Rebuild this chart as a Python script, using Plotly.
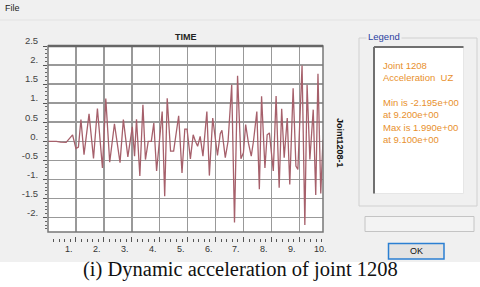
import plotly.graph_objects as go

# ---- data (turning points) ----
time_s = [0.00, 0.30, 0.45, 0.65, 0.88, 1.00, 1.09, 1.18, 1.29, 1.47, 1.63, 1.77, 1.95, 2.07, 2.21,
          2.38, 2.58, 2.70, 2.86, 3.02, 3.10, 3.17, 3.29, 3.40, 3.49, 3.59, 3.70, 3.79, 3.89, 4.09,
          4.18, 4.27, 4.39, 4.50, 4.68, 4.80, 4.90, 4.98, 5.10, 5.20, 5.28, 5.36, 5.45, 5.55, 5.69,
          5.78, 5.90, 6.07, 6.17, 6.23, 6.35, 6.45, 6.58, 6.68, 6.79, 6.91, 7.00, 7.08, 7.18, 7.28,
          7.36, 7.48, 7.57, 7.65, 7.77, 7.85, 7.93, 8.07, 8.17, 8.28, 8.37, 8.46, 8.57, 8.66, 8.78,
          8.88, 8.95, 9.10, 9.20, 9.28, 9.38, 9.50, 9.59, 9.67, 9.77, 9.85]
accel_uz = [0.00, 0.00, -0.02, -0.03, 0.17, -0.19, -0.15, 0.57, -0.35, 0.72, -0.45, 0.86, -0.70, 1.12, -0.55,
            0.46, -0.56, 0.57, -0.41, 0.38, -0.39, 0.58, -0.91, 0.96, -0.48, 0.00, 0.00, 0.48, -0.78, 0.78,
            -1.44, 1.13, -0.26, -0.26, 0.67, -0.83, 0.32, 0.32, -0.46, 0.17, 0.00, -0.13, 0.13, -0.39, 0.78,
            -0.90, 0.61, -0.37, 0.20, 0.29, -0.43, 0.00, 1.48, -2.13, 1.72, -0.46, -0.30, 0.44, -0.05, -0.39,
            0.00, 0.78, -1.26, 1.18, -0.70, 0.17, 0.22, -0.78, 1.19, -1.22, 0.85, -0.43, 0.61, -1.13, 1.39,
            -0.65, -0.74, 1.99, -2.195, 1.48, -0.48, 0.83, -1.41, 1.77, -1.37, 0.04]

y_tickvals = [2.5, 2.0, 1.5, 1.0, 0.5, 0.0, -0.5, -1.0, -1.5, -2.0]
y_ticktext = ["2.5", "2.", "1.5", "1.", "0.5", "0.", "-0.5", "-1.", "-1.5", "-2."]
x_tickvals = [1, 2, 3, 4, 5, 6, 7, 8, 9, 10]
x_ticktext = ["1.", "2.", "3.", "4.", "5.", "6.", "7.", "8.", "9.", "10."]

legend_lines = ["Joint 1208", "Acceleration  UZ", "", "Min is -2.195e+00", "at 9.200e+00",
                "Max is 1.990e+00", "at 9.100e+00"]

# ---- layout geometry (pixels) ----
W, H = 480, 287
L, R, T, B = 48, 157, 46, 45
PW, PH = W - L - R, H - T - B
X_MAX = 9.85


def xp(px):
    return (px - L) / PW


def yp(py):
    return (H - B - py) / PH


def x_data_to_px(v):
    return L + v / X_MAX * PW


UI_FONT = "Liberation Sans, Arial, sans-serif"

fig = go.Figure()
fig.add_trace(go.Scatter(x=time_s, y=accel_uz, mode="lines",
                         line=dict(color="#a6606b", width=1.3), hoverinfo="skip"))

shapes = []
# white caption area
shapes.append(dict(type="rect", xref="paper", yref="paper", x0=xp(0), x1=xp(W), y0=yp(290), y1=yp(262),
                   fillcolor="white", line=dict(width=0), layer="below"))
# menu separator
shapes.append(dict(type="line", xref="paper", yref="paper", x0=xp(0), x1=xp(W), y0=yp(20), y1=yp(20),
                   line=dict(color="#e2e2e2", width=1)))
# plot frame
shapes.append(dict(type="rect", xref="x domain", yref="y domain", x0=0, x1=1, y0=0, y1=1,
                   line=dict(color="#777777", width=1.5)))
shapes.append(dict(type="line", xref="x domain", yref="y domain", x0=0, x1=1, y0=1, y1=1,
                   line=dict(color="#666666", width=2.5)))
# legend group box
shapes.append(dict(type="rect", xref="paper", yref="paper", x0=xp(359), x1=xp(477), y0=yp(206), y1=yp(38),
                   line=dict(color="#d0d0d0", width=1)))
# inner white box
shapes.append(dict(type="rect", xref="paper", yref="paper", x0=xp(373.5), x1=xp(463.5), y0=yp(193.5), y1=yp(46.5),
                   fillcolor="white", line=dict(color="#e6e6e6", width=1)))
shapes.append(dict(type="line", xref="paper", yref="paper", x0=xp(374), x1=xp(374), y0=yp(193.5), y1=yp(47),
                   line=dict(color="#707070", width=2)))
shapes.append(dict(type="line", xref="paper", yref="paper", x0=xp(374), x1=xp(463.5), y0=yp(47), y1=yp(47),
                   line=dict(color="#707070", width=2)))
# status box
shapes.append(dict(type="rect", xref="paper", yref="paper", x0=xp(365), x1=xp(474), y0=yp(231.5), y1=yp(216.5),
                   fillcolor="#f3f3f3", line=dict(color="#c4c4c4", width=1)))
# OK button
shapes.append(dict(type="rect", xref="paper", yref="paper", x0=xp(388.5), x1=xp(444), y0=yp(259), y1=yp(243.5),
                   fillcolor="#e3e3e3", line=dict(color="#2b7fd2", width=1.5)))

annotations = []
annotations.append(dict(text="File", x=xp(3), y=yp(8), xref="paper", yref="paper", xanchor="left",
                        yanchor="middle", showarrow=False, font=dict(family=UI_FONT, size=9, color="#222")))
annotations.append(dict(text="<b>TIME</b>", x=xp(186), y=yp(37), xref="paper", yref="paper",
                        xanchor="center", yanchor="middle", showarrow=False,
                        font=dict(family=UI_FONT, size=9, color="#222")))
annotations.append(dict(text="<b>Joint1208-1</b>", x=xp(340), y=yp(143), xref="paper", yref="paper",
                        xanchor="center", yanchor="middle", textangle=90, showarrow=False,
                        font=dict(family=UI_FONT, size=9, color="#111")))
annotations.append(dict(text="Legend", x=xp(366), y=yp(36.5), xref="paper", yref="paper",
                        xanchor="left", yanchor="middle", showarrow=False, bgcolor="#f0f0f0",
                        font=dict(family=UI_FONT, size=9.5, color="#2a3fa0")))
annotations.append(dict(text="<br>".join(l if l else " " for l in legend_lines), x=xp(381), y=yp(58),
                        xref="paper", yref="paper", xanchor="left", yanchor="top", align="left",
                        showarrow=False, font=dict(family=UI_FONT, size=9.5, color="#e8902c")))
annotations.append(dict(text="OK", x=xp(416), y=yp(251.3), xref="paper", yref="paper",
                        xanchor="center", yanchor="middle", showarrow=False,
                        font=dict(family=UI_FONT, size=9, color="#111")))
annotations.append(dict(text="(i) Dynamic acceleration of joint 1208", x=xp(240), y=yp(269),
                        xref="paper", yref="paper", xanchor="center", yanchor="middle", showarrow=False,
                        font=dict(family="Liberation Serif, Times New Roman, serif", size=20.5, color="#111")))
for v, t in zip(x_tickvals, x_ticktext):
    annotations.append(dict(text=t, x=xp(x_data_to_px(v) - 7), y=yp(249), xref="paper", yref="paper",
                            xanchor="center", yanchor="middle", showarrow=False,
                            font=dict(family=UI_FONT, size=9, color="#333")))

fig.update_layout(
    width=W, height=H, margin=dict(l=L, r=R, t=T, b=B, pad=0),
    paper_bgcolor="#f0f0f0", plot_bgcolor="white", showlegend=False,
    shapes=shapes, annotations=annotations,
    xaxis=dict(range=[0, X_MAX], anchor="free", position=0, showline=False, zeroline=False,
               tickvals=x_tickvals, showticklabels=False, ticks="inside", ticklen=5, tickwidth=1,
               tickcolor="#555", showgrid=True, gridcolor="#999999", gridwidth=1.5,
               minor=dict(dtick=0.2, tick0=0, ticks="inside", ticklen=3, tickcolor="#555", showgrid=False)),
    yaxis=dict(range=[-2.38, 2.5], domain=[yp(232), 1], showline=False, zeroline=False,
               tickvals=y_tickvals, ticktext=y_ticktext, ticks="outside", ticklen=4, tickcolor="#555",
               ticklabelshift=-5, ticklabelstandoff=3,
               tickfont=dict(family=UI_FONT, size=9.5, color="#444"),
               showgrid=True, gridcolor="#999999", gridwidth=1.5,
               minor=dict(dtick=0.1, tick0=0, ticks="outside", ticklen=2, tickcolor="#666", showgrid=False)),
)

fig.write_html("out.html", config={"displayModeBar": False, "staticPlot": True},
               post_script="document.body.style.margin='0';document.body.style.overflow='hidden';")
